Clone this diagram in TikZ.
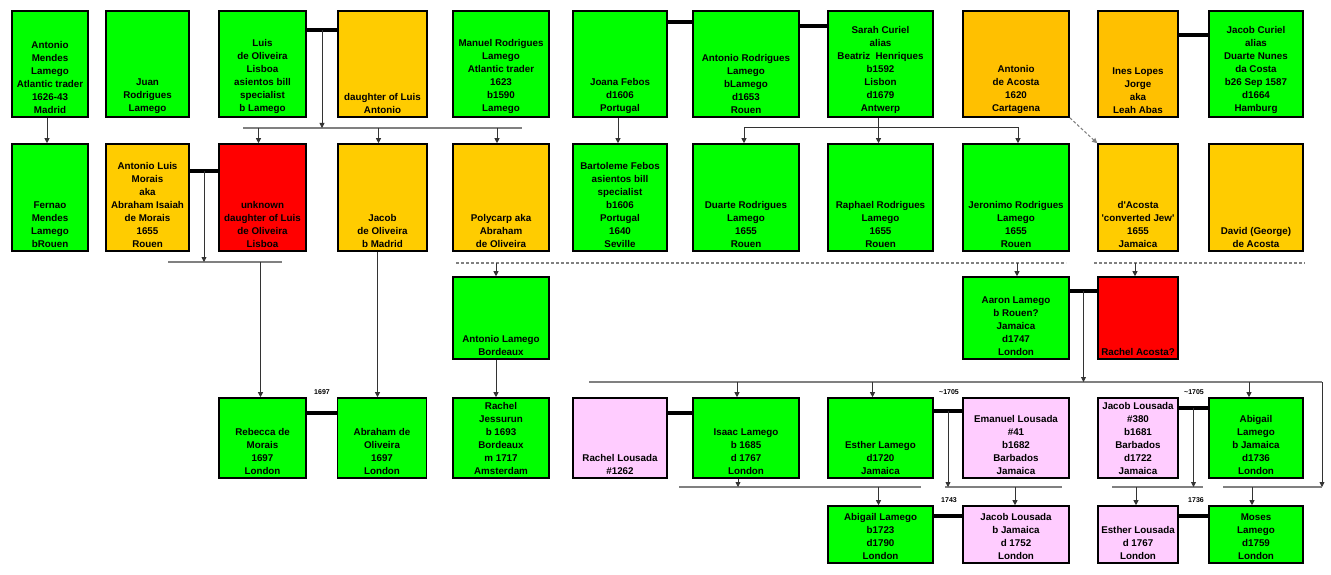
\documentclass[tikz,border=0pt]{standalone}
\usepackage{fontspec}
\setmainfont{Liberation Sans}
\usetikzlibrary{arrows.meta,calc}
\definecolor{greencolor}{RGB}{0,255,0}
\definecolor{orangecolor}{RGB}{255,204,0}
\definecolor{ambercolor}{RGB}{255,192,0}
\definecolor{redcolor}{RGB}{255,0,0}
\definecolor{pinkcolor}{RGB}{255,204,255}
\definecolor{barcolor}{RGB}{128,128,128}

\begin{document}
\begin{tikzpicture}[x=1pt, y=-1pt, >={Triangle[length=5pt,width=5pt]},
    box/.style={draw=black, line width=1.6pt, inner sep=0pt},
    who/.style={anchor=south, align=center, inner sep=0pt, font=\fontsize{9.8}{13}\selectfont\bfseries},
    c1/.style={minimum width=76pt}, c2/.style={minimum width=83pt},
    c3/.style={minimum width=87pt}, c4/.style={minimum width=89pt},
    c5/.style={minimum width=96pt}, c6/.style={minimum width=94pt},
    c7/.style={minimum width=106pt}, c8/.style={minimum width=105pt},
    c9/.style={minimum width=106pt}, c10/.style={minimum width=80pt},
    c11/.style={minimum width=94pt},
    r1/.style={minimum height=106pt}, r2/.style={minimum height=107pt},
    r3/.style={minimum height=82pt}, r4/.style={minimum height=80pt},
    r5/.style={minimum height=57pt},
    wed/.style={draw=black, line width=3.5pt},
    kid/.style={->, draw=black!80, line width=0.8pt},
    bar/.style={draw=barcolor, line width=1.4pt},
    dashbar/.style={bar, line width=1.2pt, dash pattern=on 3pt off 2pt},
    dashkid/.style={->, draw=barcolor, line width=1pt, dash pattern=on 3pt off 2pt},
    yearlbl/.style={inner sep=0pt, font=\fontsize{7}{8}\selectfont\bfseries}]

    \fill[white] (0,0) rectangle (1331,575);
    \useasboundingbox (0,0) rectangle (1331,575);

    % ═══════════════════════════════════════════════════════════════════════════
    % GENERATION 1
    % ═══════════════════════════════════════════════════════════════════════════

    \node[box, c1, r1, fill=greencolor] (amendes) at (50,64) {};
    \node[who] (amendes-t) at ([yshift=4pt]amendes.south) {Antonio\\Mendes\\Lamego\\Atlantic trader\\1626-43\\Madrid};
    \node[box, c2, r1, fill=greencolor] (juan) at (147.5,64) {};
    \node[who] (juan-t) at ([yshift=4pt]juan.south) {Juan\\Rodrigues\\Lamego};
    \node[box, c3, r1, fill=greencolor] (luis) at (262.5,64) {};
    \node[who] (luis-t) at ([yshift=4pt]luis.south) {Luis\\de Oliveira\\Lisboa\\asientos bill\\specialist\\b Lamego};
    \node[box, c4, r1, fill=orangecolor] (dla) at (382.5,64) {};
    \node[who] (dla-t) at ([yshift=4pt]dla.south) {daughter of Luis\\Antonio};
    \node[box, c5, r1, fill=greencolor] (manuel) at (501,64) {};
    \node[who] (manuel-t) at ([yshift=4pt]manuel.south) {Manuel Rodrigues\\Lamego\\Atlantic trader\\1623\\b1590\\Lamego};
    \node[box, c6, r1, fill=greencolor] (joana) at (620,64) {};
    \node[who] (joana-t) at ([yshift=4pt]joana.south) {Joana Febos\\d1606\\Portugal};
    \node[box, c7, r1, fill=greencolor] (arlamego) at (746,64) {};
    \node[who] (arlamego-t) at ([yshift=4pt]arlamego.south) {Antonio Rodrigues\\Lamego\\bLamego\\d1653\\Rouen};
    \node[box, c8, r1, fill=greencolor] (sarah) at (880.5,64) {};
    \node[who] (sarah-t) at ([yshift=4pt]sarah.south) {Sarah Curiel\\alias\\Beatriz\ \ Henriques\\b1592\\Lisbon\\d1679\\Antwerp};
    \node[box, c9, r1, fill=ambercolor] (acosta) at (1016,64) {};
    \node[who] (acosta-t) at ([yshift=4pt]acosta.south) {Antonio\\de Acosta\\1620\\Cartagena};
    \node[box, c10, r1, fill=ambercolor] (ines) at (1138,64) {};
    \node[who] (ines-t) at ([yshift=4pt]ines.south) {Ines Lopes\\Jorge\\aka\\Leah Abas};
    \node[box, c11, r1, fill=greencolor] (jcuriel) at (1256,64) {};
    \node[who] (jcuriel-t) at ([yshift=4pt]jcuriel.south) {Jacob Curiel\\alias\\Duarte Nunes\\da Costa\\b26 Sep 1587\\d1664\\Hamburg};

    % ═══════════════════════════════════════════════════════════════════════════
    % GENERATION 2
    % ═══════════════════════════════════════════════════════════════════════════

    \node[box, c1, r2, fill=greencolor] (fernao) at (50,197.5) {};
    \node[who] (fernao-t) at ([yshift=4pt]fernao.south) {Fernao\\Mendes\\Lamego\\bRouen};
    \node[box, c2, r2, fill=orangecolor] (morais) at (147.5,197.5) {};
    \node[who] (morais-t) at ([yshift=4pt]morais.south) {Antonio Luis\\Morais\\aka\\Abraham Isaiah\\de Morais\\1655\\Rouen};
    \node[box, c3, r2, fill=redcolor] (unknown) at (262.5,197.5) {};
    \node[who] (unknown-t) at ([yshift=4pt]unknown.south) {unknown\\daughter of Luis\\de Oliveira\\Lisboa};
    \node[box, c4, r2, fill=orangecolor] (jacob) at (382.5,197.5) {};
    \node[who] (jacob-t) at ([yshift=4pt]jacob.south) {Jacob\\de Oliveira\\b Madrid};
    \node[box, c5, r2, fill=orangecolor] (polycarp) at (501,197.5) {};
    \node[who] (polycarp-t) at ([yshift=4pt]polycarp.south) {Polycarp aka\\Abraham\\de Oliveira};
    \node[box, c6, r2, fill=greencolor] (bartoleme) at (620,197.5) {};
    \node[who] (bartoleme-t) at ([yshift=4pt]bartoleme.south) {Bartoleme Febos\\asientos bill\\specialist\\b1606\\Portugal\\1640\\Seville};
    \node[box, c7, r2, fill=greencolor] (duarte) at (746,197.5) {};
    \node[who] (duarte-t) at ([yshift=4pt]duarte.south) {Duarte Rodrigues\\Lamego\\1655\\Rouen};
    \node[box, c8, r2, fill=greencolor] (raphael) at (880.5,197.5) {};
    \node[who] (raphael-t) at ([yshift=4pt]raphael.south) {Raphael Rodrigues\\Lamego\\1655\\Rouen};
    \node[box, c9, r2, fill=greencolor] (jeronimo) at (1016,197.5) {};
    \node[who] (jeronimo-t) at ([yshift=4pt]jeronimo.south) {Jeronimo Rodrigues\\Lamego\\1655\\Rouen};
    \node[box, c10, r2, fill=orangecolor] (dacosta) at (1138,197.5) {};
    \node[who] (dacosta-t) at ([yshift=4pt]dacosta.south) {d\textquotesingle Acosta\\\textquotesingle converted Jew\textquotesingle\\1655\\Jamaica};
    \node[box, c11, r2, fill=orangecolor] (david) at (1256,197.5) {};
    \node[who] (david-t) at ([yshift=4pt]david.south) {David (George)\\de Acosta};

    % ═══════════════════════════════════════════════════════════════════════════
    % GENERATION 3
    % ═══════════════════════════════════════════════════════════════════════════

    \node[box, c5, r3, fill=greencolor] (abordeaux) at (501,318) {};
    \node[who] (abordeaux-t) at ([yshift=4pt]abordeaux.south) {Antonio Lamego\\Bordeaux};
    \node[box, c9, r3, fill=greencolor] (aaron) at (1016,318) {};
    \node[who] (aaron-t) at ([yshift=4pt]aaron.south) {Aaron Lamego\\b Rouen?\\Jamaica\\d1747\\London};
    \node[box, c10, r3, fill=redcolor] (racosta) at (1138,318) {};
    \node[who] (racosta-t) at ([yshift=4pt]racosta.south) {Rachel Acosta?};

    % ═══════════════════════════════════════════════════════════════════════════
    % GENERATION 4
    % ═══════════════════════════════════════════════════════════════════════════

    \node[box, c3, r4, fill=greencolor] (rebecca) at (262.5,438) {};
    \node[who] (rebecca-t) at ([yshift=4pt]rebecca.south) {Rebecca de\\Morais\\1697\\London};
    \node[box, c4, r4, fill=greencolor] (abraham) at (382,438) {};
    \node[who] (abraham-t) at ([yshift=4pt]abraham.south) {Abraham de\\Oliveira\\1697\\London};
    \node[box, c5, r4, fill=greencolor] (jessurun) at (501,438) {};
    \node[who] (jessurun-t) at ([yshift=4pt]jessurun.south) {Rachel\\Jessurun\\b 1693\\Bordeaux\\m 1717\\Amsterdam};
    \node[box, c6, r4, fill=pinkcolor] (rlousada) at (620,438) {};
    \node[who] (rlousada-t) at ([yshift=4pt]rlousada.south) {Rachel Lousada\\\#1262};
    \node[box, c7, r4, fill=greencolor] (isaac) at (746,438) {};
    \node[who] (isaac-t) at ([yshift=4pt]isaac.south) {Isaac Lamego\\b 1685\\d 1767\\London};
    \node[box, c8, r4, fill=greencolor] (esther) at (880.5,438) {};
    \node[who] (esther-t) at ([yshift=4pt]esther.south) {Esther Lamego\\d1720\\Jamaica};
    \node[box, c9, r4, fill=pinkcolor] (emanuel) at (1016,438) {};
    \node[who] (emanuel-t) at ([yshift=4pt]emanuel.south) {Emanuel Lousada\\\#41\\b1682\\Barbados\\Jamaica};
    \node[box, c10, r4, fill=pinkcolor] (jlousada) at (1138,438) {};
    \node[who] (jlousada-t) at ([yshift=4pt]jlousada.south) {Jacob Lousada\\\#380\\b1681\\Barbados\\d1722\\Jamaica};
    \node[box, c11, r4, fill=greencolor] (abigail) at (1256,438) {};
    \node[who] (abigail-t) at ([yshift=4pt]abigail.south) {Abigail\\Lamego\\b Jamaica\\d1736\\London};

    % ═══════════════════════════════════════════════════════════════════════════
    % GENERATION 5
    % ═══════════════════════════════════════════════════════════════════════════

    \node[box, c8, r5, fill=greencolor] (abigail2) at (880.5,534.5) {};
    \node[who] (abigail2-t) at ([yshift=4pt]abigail2.south) {Abigail Lamego\\b1723\\d1790\\London};
    \node[box, c9, r5, fill=pinkcolor] (jlousada2) at (1016,534.5) {};
    \node[who] (jlousada2-t) at ([yshift=4pt]jlousada2.south) {Jacob Lousada\\b Jamaica\\d 1752\\London};
    \node[box, c10, r5, fill=pinkcolor] (elousada) at (1138,534.5) {};
    \node[who] (elousada-t) at ([yshift=4pt]elousada.south) {Esther Lousada\\d 1767\\London};
    \node[box, c11, r5, fill=greencolor] (moses) at (1256,534.5) {};
    \node[who] (moses-t) at ([yshift=4pt]moses.south) {Moses\\Lamego\\d1759\\London};

    % ═══════════════════════════════════════════════════════════════════════════
    % MARIAGES
    % ═══════════════════════════════════════════════════════════════════════════

    \draw[wed] ([yshift=-20pt]luis.north east) -- coordinate (luis-m) ([yshift=-20pt]dla.north west);
    \draw[wed] ([yshift=-12pt]joana.north east) -- ([yshift=-12pt]arlamego.north west);
    \draw[wed] ([yshift=-16pt]arlamego.north east) -- ([yshift=-16pt]sarah.north west);
    \draw[wed] ([yshift=-25pt]ines.north east) -- ([yshift=-25pt]jcuriel.north west);
    \draw[wed] ([yshift=-28pt]morais.north east) -- coordinate (morais-m) ([yshift=-28pt]unknown.north west);
    \draw[wed] ([yshift=-15pt]aaron.north east) -- coordinate (aaron-m) ([yshift=-15pt]racosta.north west);
    \draw[wed] ([yshift=-16pt]rebecca.north east) -- ([yshift=-16pt]abraham.north west);
    \draw[wed] ([yshift=-16pt]rlousada.north east) -- ([yshift=-16pt]isaac.north west);
    \draw[wed] ([yshift=-14pt]esther.north east) -- coordinate (esther-m) ([yshift=-14pt]emanuel.north west);
    \draw[wed] ([yshift=-11pt]jlousada.north east) -- coordinate (jlousada-m) ([yshift=-11pt]abigail.north west);
    \draw[wed] ([yshift=-11pt]abigail2.north east) -- ([yshift=-11pt]jlousada2.north west);
    \draw[wed] ([yshift=-11pt]elousada.north east) -- ([yshift=-11pt]moses.north west);

    \node[yearlbl] (y1697) at (322,392) {1697};
    \node[yearlbl] (y1705a) at (949,392) {\textasciitilde1705};
    \node[yearlbl] (y1705b) at (1194,392) {\textasciitilde1705};
    \node[yearlbl] (y1743) at (949,500) {1743};
    \node[yearlbl] (y1736) at (1196,500) {1736};

    % ═══════════════════════════════════════════════════════════════════════════
    % ENFANTS
    % ═══════════════════════════════════════════════════════════════════════════

    \draw[kid] ([xshift=-3pt]amendes.south) -- ([xshift=-3pt]fernao.north);
    \draw[kid] ([xshift=-2pt]joana.south) -- ([xshift=-2pt]bartoleme.north);
    \draw[kid] ([xshift=-2pt]sarah.south) -- ([xshift=-2pt]raphael.north);
    \draw[kid, <->] ([xshift=-2pt]duarte.north) -- ++(0,-16) -| ([xshift=2pt]jeronimo.north);
    \draw[dashkid] (acosta.south east) -- (dacosta.north west);

    % Luis de Oliveira
    \coordinate (bar-luis-w) at (243,128);
    \coordinate (bar-luis-e) at (522,128);
    \draw[bar] (bar-luis-w) -- (bar-luis-e);
    \draw[kid] (luis-m) -- (luis-m |- bar-luis-w);
    \foreach \k in {unknown, jacob, polycarp}
        \draw[kid] ([xshift=-4pt]\k.north |- bar-luis-w) -- ([xshift=-4pt]\k.north);

    % Morais
    \coordinate (bar-morais-w) at (168,262);
    \coordinate (bar-morais-e) at (282,262);
    \draw[bar] (bar-morais-w) -- (bar-morais-e);
    \draw[kid] (morais-m) -- (morais-m |- bar-morais-w);
    \draw[kid] ([xshift=-2pt]rebecca.north |- bar-morais-w) -- ([xshift=-2pt]rebecca.north);
    \draw[kid] ([xshift=-5pt]jacob.south) -- ([xshift=-5pt]jacob.south |- abraham.north);

    % Parents inconnus
    \coordinate (dash1-w) at (456,263);
    \coordinate (dash1-e) at (1066,263);
    \coordinate (dash2-w) at (1094,263);
    \coordinate (dash2-e) at (1305,263);
    \draw[dashbar] (dash1-w) -- (dash1-e);
    \draw[dashbar] (dash2-w) -- (dash2-e);
    \draw[kid] ([xshift=-5pt]abordeaux.north |- dash1-w) -- ([xshift=-5pt]abordeaux.north);
    \draw[kid] ([xshift=1pt]aaron.north |- dash1-w) -- ([xshift=1pt]aaron.north);
    \draw[kid] ([xshift=-3pt]racosta.north |- dash2-w) -- ([xshift=-3pt]racosta.north);
    \draw[kid] ([xshift=-5pt]abordeaux.south) -- ([xshift=-5pt]jessurun.north);

    % Aaron Lamego
    \coordinate (bar-aaron-w) at (589,382);
    \coordinate (bar-aaron-e) at (1322,382);
    \coordinate (bar-moses-w) at (1223,487);
    \coordinate (bar-moses-e) at (1322,487);
    \draw[bar] (bar-aaron-w) -- (bar-aaron-e);
    \draw[kid] (aaron-m) -- (aaron-m |- bar-aaron-w);
    \draw[kid] ([xshift=-9pt]isaac.north |- bar-aaron-w) -- ([xshift=-9pt]isaac.north);
    \draw[kid] ([xshift=-8pt]esther.north |- bar-aaron-w) -- ([xshift=-8pt]esther.north);
    \draw[kid] ([xshift=-7pt]abigail.north |- bar-aaron-w) -- ([xshift=-7pt]abigail.north);
    \draw[kid] (bar-aaron-e) -- (bar-moses-e);
    \draw[bar] (bar-moses-w) -- (bar-moses-e);
    \draw[kid] ([xshift=-4pt]moses.north |- bar-moses-w) -- ([xshift=-4pt]moses.north);

    % Isaac Lamego
    \coordinate (bar-isaac-w) at (679,487);
    \coordinate (bar-isaac-e) at (921,487);
    \draw[bar] (bar-isaac-w) -- (bar-isaac-e);
    \draw[kid] ([xshift=-8pt]isaac.south) -- ([xshift=-8pt]isaac.south |- bar-isaac-w);
    \draw[kid] ([xshift=-2pt]abigail2.north |- bar-isaac-w) -- ([xshift=-2pt]abigail2.north);

    % Esther Lamego
    \coordinate (bar-esther-w) at (945,487);
    \coordinate (bar-esther-e) at (1062,487);
    \draw[bar] (bar-esther-w) -- (bar-esther-e);
    \draw[kid] (esther-m) -- (esther-m |- bar-esther-w);
    \draw[kid] ([xshift=-1pt]jlousada2.north |- bar-esther-w) -- ([xshift=-1pt]jlousada2.north);

    % Jacob Lousada
    \coordinate (bar-jlousada-w) at (1112,487);
    \coordinate (bar-jlousada-e) at (1203,487);
    \draw[bar] (bar-jlousada-w) -- (bar-jlousada-e);
    \draw[kid] (jlousada-m) -- (jlousada-m |- bar-jlousada-w);
    \draw[kid] ([xshift=-2pt]elousada.north |- bar-jlousada-w) -- ([xshift=-2pt]elousada.north);

\end{tikzpicture}
\end{document}
